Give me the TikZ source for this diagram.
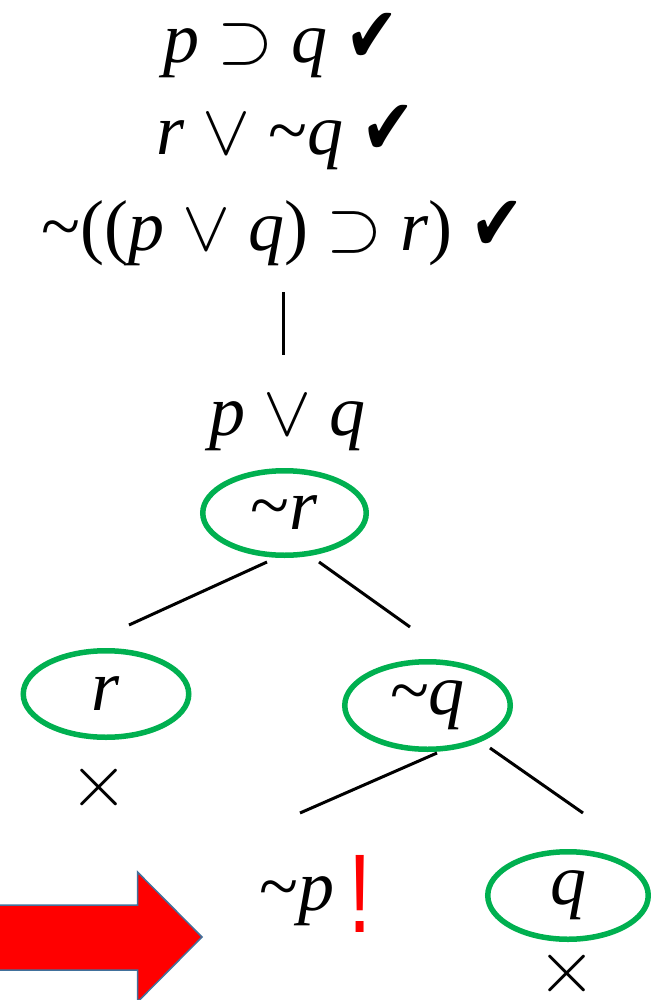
\RequirePackage{fix-cm}
\documentclass[tikz,border=0pt]{standalone}
\usepackage{fontspec}
\setmainfont{Liberation Serif}
\setsansfont{Liberation Sans}
\newfontfamily\symfont{DejaVu Sans}
\usetikzlibrary{shapes.geometric}
\definecolor{ringgreen}{HTML}{00B050}
\definecolor{arrowedge}{HTML}{41719C}
\newcommand{\ck}{{\symfont\fontsize{39}{42}\selectfont\scalebox{0.82}[1]{✔}}}
\newcommand{\tld}{\textasciitilde}
\newcommand{\hook}{$\supset$}
\newcommand{\vel}{$\vee$}
\begin{document}
\begin{tikzpicture}[x=0.5pt,y=-0.5pt,every node/.style={font=\fontsize{36}{43}\selectfont,inner sep=0pt},
  ring/.style={ellipse,draw=ringgreen,line width=2.75pt},
  branch/.style={line width=1.5pt},
  cross/.style={font=\fontsize{38}{44}\selectfont}]
\useasboundingbox (0,0) rectangle (651,1000);
% premises
\node[anchor=base] (prem1) at (281,63) {\textit{p} \hook{} \textit{q} \ck};
\node[anchor=base] (prem2) at (286,155) {\textit{r} \vel{} \tld\textit{q} \ck};
\node[anchor=base] (prem3) at (283,250) {\tld((\textit{p} \vel{} \textit{q}) \hook{} \textit{r}) \ck};
\coordinate (stemtop) at (283,292);
\coordinate (stembot) at (283,355);
\draw[branch] (stemtop) -- (stembot);
\node[anchor=base] (pq) at (287,435) {\textit{p} \vel{} \textit{q}};
\node[ring,minimum width=81.75pt,minimum height=42.25pt] (nr) at (284.5,513) {\tld\textit{r}};
% first split
\coordinate (b1a) at (267,562); \coordinate (b1b) at (129,625);
\coordinate (b2a) at (319,562); \coordinate (b2b) at (410,627);
\draw[branch] (b1a) -- (b1b);
\draw[branch] (b2a) -- (b2b);
\node[ring,minimum width=82.75pt,minimum height=43.25pt] (r) at (106,694) {\textit{r}};
\node[cross] (x1) at (99,787) {$\times$};
\node[ring,minimum width=82.75pt,minimum height=43.75pt] (nq) at (427.5,705.5) {\tld\textit{q}};
% second split
\coordinate (b3a) at (437,753); \coordinate (b3b) at (300,813);
\coordinate (b4a) at (490,748); \coordinate (b4b) at (583,813);
\draw[branch] (b3a) -- (b3b);
\draw[branch] (b4a) -- (b4b);
\node[anchor=base] (np) at (297,910) {\tld\textit{p}};
\node[anchor=base,text=red,font=\sffamily\fontsize{56}{60}\selectfont] (bang) at (360,932) {\scalebox{0.75}[1]{!}};
\node[ring,minimum width=80.25pt,minimum height=43.75pt] (q) at (568,895.5) {\textit{q}};
\node[cross] (x2) at (567,973) {$\times$};
% arrow
\draw[fill=red,draw=arrowedge,line width=0.75pt]
  (-5,905) -- (137.5,905) -- (137.5,872) -- (202,937) -- (137.5,1002) -- (137.5,970) -- (-5,970) -- cycle;
\end{tikzpicture}
\end{document}
